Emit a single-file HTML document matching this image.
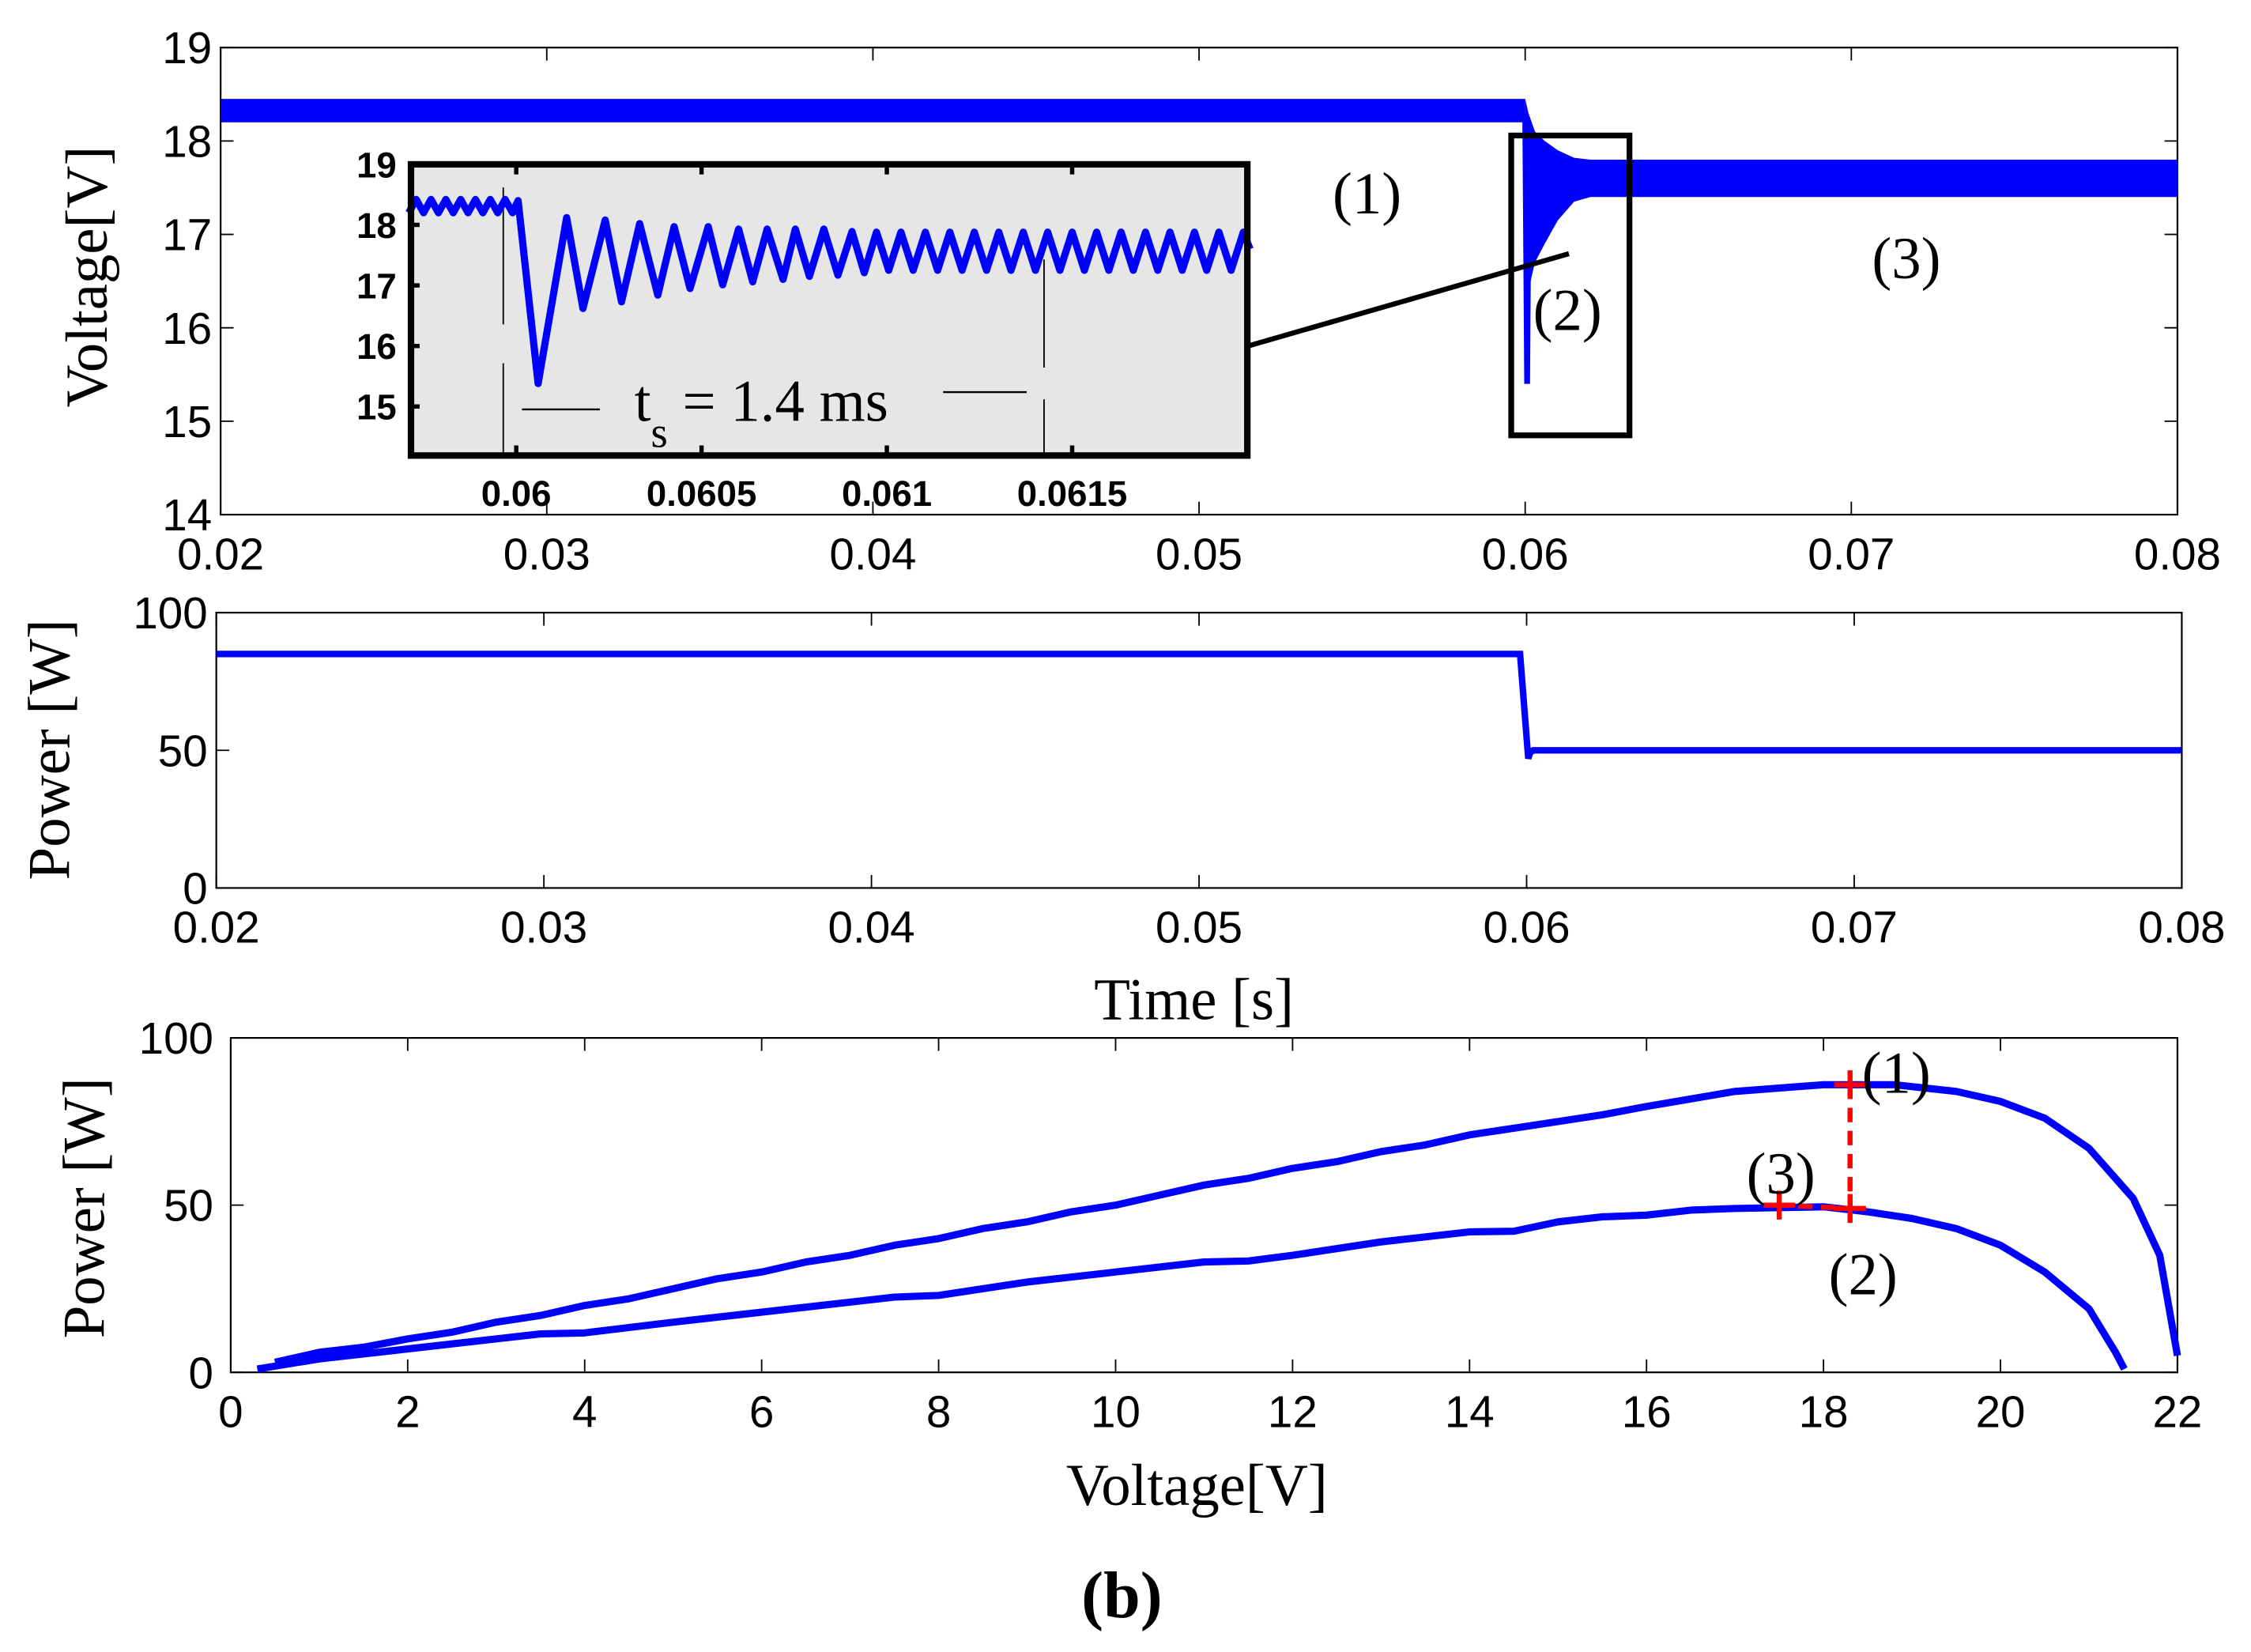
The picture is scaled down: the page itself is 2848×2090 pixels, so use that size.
<!DOCTYPE html>
<html><head><meta charset="utf-8"><style>
html,body{margin:0;padding:0;background:#fff;}
svg{display:block;}
.tk{font-family:"Liberation Sans",sans-serif;font-size:31px;fill:#000;}
.ti{font-family:"Liberation Serif",serif;font-size:41px;fill:#000;}
.it{font-family:"Liberation Sans",sans-serif;font-size:25px;font-weight:bold;fill:#000;}
</style></head><body>
<svg id="fig" width="2848" height="2090" viewBox="0 0 1561 1146" preserveAspectRatio="none" xmlns="http://www.w3.org/2000/svg">
<g id="p1"></g>
<g id="inset"></g>
<g id="p2"></g>
<g id="p3"></g>
<text x="778" y="1122" text-anchor="middle" style="font-family:'Liberation Serif',serif;font-size:46px;font-weight:bold">(b)</text>
</svg>
<script>
// ---- Plot 1 data (voltage vs time, envelopes) ----
const p1XTicks = [0.02,0.03,0.04,0.05,0.06,0.07,0.08];
const p1XTickLabels = ["0.02","0.03","0.04","0.05","0.06","0.07","0.08"];
const p1YTicks = [14,15,16,17,18,19];
const p1PreTime = [0.02,0.06];
const p1PreHigh = [18.45,18.45];
const p1PreLow = [18.2,18.2];
const p1EnvTime = [0.06,0.0601,0.0603,0.0606,0.061,0.0615,0.062,0.08];
const p1EnvHigh = [18.45,18.3,18.1,18.0,17.9,17.82,17.8,17.8];
const p1EnvLow = [16.0,16.4,16.7,16.9,17.15,17.35,17.4,17.4];
const p1SpikeTime = [0.06,0.06006,0.0601];
const p1SpikeV = [18.3,15.4,17.4];
// ---- Inset data ----
const inXTicks = [0.06,0.0605,0.061,0.0615];
const inXTickLabels = ["0.06","0.0605","0.061","0.0615"];
const inYTicks = [15,16,17,18,19];
const inTimeMs = [-0.29,-0.27,-0.25,-0.23,-0.21,-0.19,-0.17,-0.15,-0.13,-0.11,-0.09,-0.07,-0.05,-0.03,-0.01,0.005,0.059,0.136,0.180,0.240,0.284,0.333,0.382,0.426,0.469,0.518,0.557,0.600,0.638,0.677,0.720,0.753,0.791,0.830,0.868,0.906,0.939,0.972,1.005,1.038,1.071,1.104,1.137,1.170,1.203,1.236,1.269,1.302,1.335,1.368,1.401,1.434,1.467,1.500,1.533,1.566,1.599,1.632,1.665,1.698,1.731,1.764,1.797,1.830,1.863,1.896,1.929,1.962,1.98];
const inV = [18.2,18.42,18.2,18.42,18.2,18.42,18.2,18.42,18.2,18.42,18.2,18.42,18.2,18.42,18.2,18.4,15.38,18.12,16.62,18.08,16.73,18.02,16.84,17.97,16.95,17.97,17.01,17.93,17.06,17.93,17.10,17.93,17.15,17.93,17.17,17.89,17.21,17.88,17.25,17.88,17.25,17.88,17.25,17.88,17.25,17.88,17.25,17.88,17.25,17.88,17.25,17.88,17.25,17.88,17.25,17.88,17.25,17.88,17.25,17.88,17.25,17.88,17.25,17.88,17.25,17.88,17.25,17.88,17.6];
// ---- Plot 2 data ----
const p2XTicks = [0.02,0.03,0.04,0.05,0.06,0.07,0.08];
const p2YTicks = [0,50,100];
const p2Time = [0.02,0.0598,0.06005,0.0601,0.0602,0.08];
const p2Power = [85,85,47,49,50,50];
// ---- Plot 3 data ----
const p3XTicks = [0,2,4,6,8,10,12,14,16,18,20,22];
const p3YTicks = [0,50,100];
const c1V = [0.5,1,1.5,2,2.5,3,3.5,4,4.5,5,5.5,6,6.5,7,7.5,8,8.5,9,9.5,10,10.5,11,11.5,12,12.5,13,13.5,14,14.5,15,15.5,16,17,18,18.8,19.5,20,20.5,21,21.5,21.8,22];
const c1P = [3,6,7.5,10,12,15,17,20,22,25,28,30,33,35,38,40,43,45,48,50,53,56,58,61,63,66,68,71,73,75,77,79.5,84,86,86,84,81,76,67,52,35,5];
const c2V = [0.3,1,2,3,3.5,4,5,6,7,7.5,8,9,10,11,11.5,12,13,14,14.5,15,15.5,16,16.5,17,18,18.5,19,19.5,20,20.5,21,21.3,21.4];
const c2P = [1,4,7,10,11.5,11.8,15,18,21,22.5,23,27,30,33,33.3,35,39,42,42.2,45,46.5,47,48.5,49,49.5,48,46,43,38,30,19,6,1];
const opV = [18.3,18.3,17.5];
const opP = [86,49,50];
const opLabels = ["(1)","(2)","(3)"];

const NS="http://www.w3.org/2000/svg";
function mk(parent,tag,attrs,text){const e=document.createElementNS(NS,tag);for(const k in attrs)e.setAttribute(k,attrs[k]);if(text!==undefined)e.textContent=text;parent.appendChild(e);return e;}
function pts(xs,ys,fx,fy){return xs.map((v,i)=>fx(v).toFixed(2)+","+fy(ys[i]).toFixed(2)).join(" ");}

// Plot 1
(function(){
 const g=document.getElementById('p1');
 const L=153,R=1510,T=33,B=357;
 const fx=t=>L+(t-0.02)/0.06*(R-L), fy=v=>B-(v-14)/5*(B-T);
 let e;
 e=mk(g,'rect',{x:L,y:T,width:R-L,height:B-T,fill:'none',stroke:'#000','stroke-width':1.2});
 
 p1XTicks.forEach((t,i)=>{const x=fx(t);
  mk(g,'line',{x1:x,y1:B,x2:x,y2:B-9,stroke:'#000','stroke-width':1});
  mk(g,'line',{x1:x,y1:T,x2:x,y2:T+9,stroke:'#000','stroke-width':1});
  e=mk(g,'text',{x:x,y:B+38,'text-anchor':'middle',class:'tk'},p1XTickLabels[i]);
  });
 p1YTicks.forEach(v=>{const y=fy(v);
  mk(g,'line',{x1:L,y1:y,x2:L+9,y2:y,stroke:'#000','stroke-width':1});
  mk(g,'line',{x1:R,y1:y,x2:R-9,y2:y,stroke:'#000','stroke-width':1});
  e=mk(g,'text',{x:L-6,y:y+11,'text-anchor':'end',class:'tk'},String(v));
  });
 const pre=p1PreTime.map(fx).map((x,i)=>x+","+fy(p1PreHigh[i])).join(" ")+" "+p1PreTime.slice().reverse().map((t,i)=>fx(t)+","+fy(p1PreLow[p1PreLow.length-1-i])).join(" ");
 e=mk(g,'polygon',{points:pre,fill:'#0000ff'});
 const env=pts(p1EnvTime,p1EnvHigh,fx,fy)+" "+pts(p1EnvTime.slice().reverse(),p1EnvLow.slice().reverse(),fx,fy);
 e=mk(g,'polygon',{points:env,fill:'#0000ff'});
 e=mk(g,'polyline',{points:pts(p1SpikeTime,p1SpikeV,fx,fy),fill:'none',stroke:'#0000ff','stroke-width':4});
 
 e=mk(g,'rect',{x:1048,y:94,width:82,height:208,fill:'none',stroke:'#000','stroke-width':4});
 
 e=mk(g,'line',{x1:862,y1:241,x2:1088,y2:176,stroke:'#000','stroke-width':3.5});
 
 [["(1)",948,148],["(2)",1087,229],["(3)",1322,193]].forEach(a=>{e=mk(g,'text',{x:a[1],y:a[2],'text-anchor':'middle',class:'ti'},a[0]);
  });
 e=mk(g,'text',{x:0,y:0,'text-anchor':'middle',class:'ti',transform:'translate(74,192) rotate(-90)'},'Voltage[V]');
 
})();

// Inset
(function(){
 const g=document.getElementById('inset');
 const L=285,R=865,T=114,B=316;
 const fx=t=>358+(t-0.06)/0.0005*128.5, fxm=ms=>358+ms*257, fy=v=>156-(v-18)*42;
 let e;
 e=mk(g,'rect',{x:L,y:T,width:R-L,height:B-T,fill:'#e6e6e6',stroke:'none'});
 
 inXTicks.forEach((t,i)=>{const x=fx(t);
  mk(g,'line',{x1:x,y1:B,x2:x,y2:B-7,stroke:'#000','stroke-width':3});
  mk(g,'line',{x1:x,y1:T,x2:x,y2:T+7,stroke:'#000','stroke-width':3});
  e=mk(g,'text',{x:x,y:B+35,'text-anchor':'middle',class:'it'},inXTickLabels[i]);
  });
 inYTicks.forEach(v=>{const y=fy(v);
  mk(g,'line',{x1:L,y1:y,x2:L+6,y2:y,stroke:'#000','stroke-width':3});
  e=mk(g,'text',{x:L-10,y:y+9,'text-anchor':'end',class:'it'},String(v));
  });
 mk(g,'line',{x1:349,y1:130,x2:349,y2:225,stroke:'#000','stroke-width':1});
 mk(g,'line',{x1:349,y1:252,x2:349,y2:314,stroke:'#000','stroke-width':1});
 mk(g,'line',{x1:724,y1:180,x2:724,y2:255,stroke:'#000','stroke-width':1});
 mk(g,'line',{x1:724,y1:277,x2:724,y2:314,stroke:'#000','stroke-width':1});
 mk(g,'line',{x1:362,y1:284,x2:416,y2:284,stroke:'#000','stroke-width':1.3});
 mk(g,'line',{x1:654,y1:272,x2:712,y2:272,stroke:'#000','stroke-width':1.3});
 e=mk(g,'polyline',{points:pts(inTimeMs,inV,fxm,fy),fill:'none',stroke:'#0000ff','stroke-width':5,'stroke-linejoin':'round'});
 
 e=mk(g,'rect',{x:L,y:T,width:R-L,height:B-T,fill:'none',stroke:'#000','stroke-width':4.5});
 
 const tx=mk(g,'text',{x:440,y:292,class:'ti','font-size':'44'});
 
 mk(tx,'tspan',{},'t');mk(tx,'tspan',{dy:18,'font-size':'30'},'s');mk(tx,'tspan',{dy:-18},' = 1.4 ms');
})();

// Plot 2
(function(){
 const g=document.getElementById('p2');
 const L=150,R=1513,T=425,B=616;
 const fx=t=>L+(t-0.02)/0.06*(R-L), fy=p=>B-p/100*(B-T);
 let e;
 e=mk(g,'rect',{x:L,y:T,width:R-L,height:B-T,fill:'none',stroke:'#000','stroke-width':1.2});
 
 p2XTicks.forEach((t,i)=>{const x=fx(t);
  mk(g,'line',{x1:x,y1:B,x2:x,y2:B-9,stroke:'#000','stroke-width':1});
  mk(g,'line',{x1:x,y1:T,x2:x,y2:T+9,stroke:'#000','stroke-width':1});
  e=mk(g,'text',{x:x,y:B+38,'text-anchor':'middle',class:'tk'},p1XTickLabels[i]);
  });
 p2YTicks.forEach(v=>{const y=fy(v);
  mk(g,'line',{x1:L,y1:y,x2:L+9,y2:y,stroke:'#000','stroke-width':1});
  mk(g,'line',{x1:R,y1:y,x2:R-9,y2:y,stroke:'#000','stroke-width':1});
  e=mk(g,'text',{x:L-6,y:y+11,'text-anchor':'end',class:'tk'},String(v));
  });
 e=mk(g,'polyline',{points:pts(p2Time,p2Power,fx,fy),fill:'none',stroke:'#0000ff','stroke-width':4.5});
 
 e=mk(g,'text',{x:0,y:0,'text-anchor':'middle',class:'ti',transform:'translate(48,520) rotate(-90)'},'Power [W]');
 
 e=mk(g,'text',{x:828,y:707,'text-anchor':'middle',class:'ti'},'Time [s]');
 
})();

// Plot 3
(function(){
 const g=document.getElementById('p3');
 const L=160,R=1510,T=720,B=952;
 const fx=v=>L+v/22*(R-L), fy=p=>B-p/100*(B-T);
 let e;
 e=mk(g,'rect',{x:L,y:T,width:R-L,height:B-T,fill:'none',stroke:'#000','stroke-width':1.2});
 
 p3XTicks.forEach(v=>{const x=fx(v);
  mk(g,'line',{x1:x,y1:B,x2:x,y2:B-9,stroke:'#000','stroke-width':1});
  mk(g,'line',{x1:x,y1:T,x2:x,y2:T+9,stroke:'#000','stroke-width':1});
  e=mk(g,'text',{x:x,y:B+38,'text-anchor':'middle',class:'tk'},String(v));
  });
 p3YTicks.forEach(v=>{const y=fy(v);
  mk(g,'line',{x1:L,y1:y,x2:L+9,y2:y,stroke:'#000','stroke-width':1});
  mk(g,'line',{x1:R,y1:y,x2:R-9,y2:y,stroke:'#000','stroke-width':1});
  e=mk(g,'text',{x:L-12,y:y+11,'text-anchor':'end',class:'tk'},String(v));
  });
 e=mk(g,'polyline',{points:pts(c1V,c1P,fx,fy),fill:'none',stroke:'#0000ff','stroke-width':5,'stroke-linejoin':'round'});
 
 e=mk(g,'polyline',{points:pts(c2V,c2P,fx,fy),fill:'none',stroke:'#0000ff','stroke-width':5,'stroke-linejoin':'round'});
 
 e=mk(g,'polyline',{points:pts(opV,opP,fx,fy),fill:'none',stroke:'#ff0000','stroke-width':3.5,'stroke-dasharray':'10,6'});
 
 opV.forEach((v,i)=>{const x=fx(v),y=fy(opP[i]);
  e=mk(g,'path',{d:`M${x-11},${y}H${x+11}M${x},${y-10}V${y+10}`,stroke:'#ff0000','stroke-width':3.5});
  });
 [[opLabels[0],1315,758],[opLabels[2],1235,828],[opLabels[1],1292,898]].forEach(a=>{
  e=mk(g,'text',{x:a[1],y:a[2],'text-anchor':'middle',class:'ti'},a[0]);
  });
 e=mk(g,'text',{x:0,y:0,'text-anchor':'middle',class:'ti',transform:'translate(72,838) rotate(-90)'},'Power [W]');
 
 e=mk(g,'text',{x:830,y:1044,'text-anchor':'middle',class:'ti'},'Voltage[V]');
 
})();
</script>
</body></html>
